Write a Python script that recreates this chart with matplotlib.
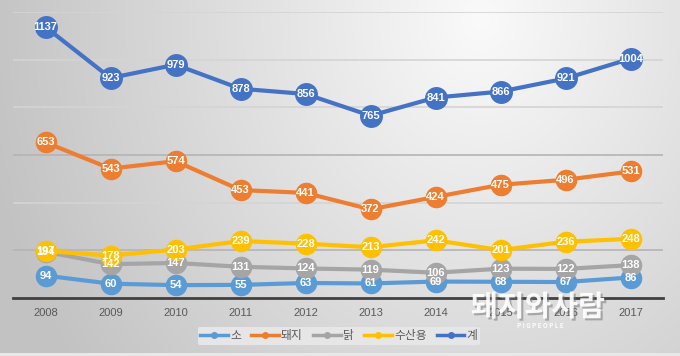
import numpy as np
import matplotlib
matplotlib.use("Agg")
import matplotlib.pyplot as plt
from matplotlib.lines import Line2D
import matplotlib.patheffects as pe

plt.rcParams['font.family'] = ['Noto Sans CJK KR', 'DejaVu Sans']

years = ['2008', '2009', '2010', '2011', '2012', '2013', '2014', '2015', '2016', '2017']
cattle = [94, 60, 54, 55, 63, 61, 69, 68, 67, 86]
pig = [653, 543, 574, 453, 441, 372, 424, 475, 496, 531]
chicken = [194, 142, 147, 131, 124, 119, 106, 123, 122, 138]
fishery = [197, 178, 203, 239, 228, 213, 242, 201, 236, 248]
total = [1137, 923, 979, 878, 856, 765, 841, 866, 921, 1004]

series_names = ['소', '돼지', '닭', '수산용', '계']
series_values = [cattle, pig, chicken, fishery, total]
series_colors = ['#5B9BD5', '#ED7D31', '#A5A5A5', '#FFC000', '#4472C4']

W, H = 680, 356
fig = plt.figure(figsize=(W / 100, H / 100), dpi=100)

# background gradient
bg = fig.add_axes([0, 0, 1, 1], zorder=-10)
yy, xx = np.mgrid[0:H, 0:W]
d = np.sqrt(((xx - 480) / 1.0) ** 2 + ((yy - 20) / 1.15) ** 2)
v = np.clip(250 - 0.11 * d, 194, 250) / 255.0
v[H - 3:, :] = 0.91
bg.imshow(np.dstack([v, v, v]), aspect='auto', extent=[0, W, H, 0])
bg.set_axis_off()

ax = fig.add_axes([13 / W, (H - 298) / H, 650 / W, 286 / H])
ax.patch.set_alpha(0)
x = np.arange(len(years))
ax.set_xlim(-0.5, len(years) - 0.5)
ax.set_ylim(0, 1200)
ax.set_yticks([200, 400, 600, 800, 1000, 1200])
ax.set_yticklabels([])
ax.tick_params(axis='y', length=0)
for yv in [200, 400, 600, 800, 1000, 1200]:
    col = '#B4B4B4' if yv in (200, 600) else '#D4D4D4'
    ax.axhline(yv, color=col, lw=1.2, zorder=0)
for s in ['top', 'right', 'left']:
    ax.spines[s].set_visible(False)
ax.spines['bottom'].set_color('#404040')
ax.spines['bottom'].set_linewidth(2)
ax.set_xticks(x)
ax.set_xticklabels(years, fontsize=8, color='#595959', family=['Liberation Sans', 'DejaVu Sans'])
ax.tick_params(axis='x', length=0, pad=7)

for i, (vals, col) in enumerate(zip(series_values, series_colors)):
    ms = 15.5 if i == 4 else 14.5
    ax.plot(x, vals, color=col, lw=3, marker='o', markersize=ms,
            markerfacecolor=col, markeredgecolor=col, zorder=2 + i, clip_on=False)

for vals, col in zip(series_values, series_colors):
    for xi, v_ in zip(x, vals):
        ax.text(xi, v_, str(v_), ha='center', va='center', color='white',
                fontsize=8, fontweight='bold', family=['Liberation Sans', 'DejaVu Sans'],
                zorder=20, clip_on=False)

handles = [Line2D([0], [0], color=c, lw=2.5, marker='o', markersize=4) for c in series_colors]
leg = fig.legend(handles, series_names, loc='center', bbox_to_anchor=(339 / W, (H - 336) / H),
                 ncol=5, frameon=True, fontsize=8.5, handlelength=2.3, handletextpad=0.2,
                 columnspacing=0.9, borderpad=0.25, labelcolor='#595959')
leg.get_frame().set_facecolor('#E6E6E6')
leg.get_frame().set_edgecolor('none')
leg.get_frame().set_alpha(1)

# watermark
fig.text(538 / W, (H - 307) / H, '돼지와사람', ha='center', va='center', fontsize=21,
         fontweight='bold', color='white', alpha=0.92, zorder=30,
         path_effects=[pe.withSimplePatchShadow(offset=(1.5, -1.5), shadow_rgbFace='#707070', alpha=0.5)])
fig.text(540 / W, (H - 326) / H, 'P I G P E O P L E', ha='center', va='center', fontsize=4.5,
         fontweight='bold', color='white', alpha=0.9, zorder=30)

fig.savefig('out.png', dpi=100)
